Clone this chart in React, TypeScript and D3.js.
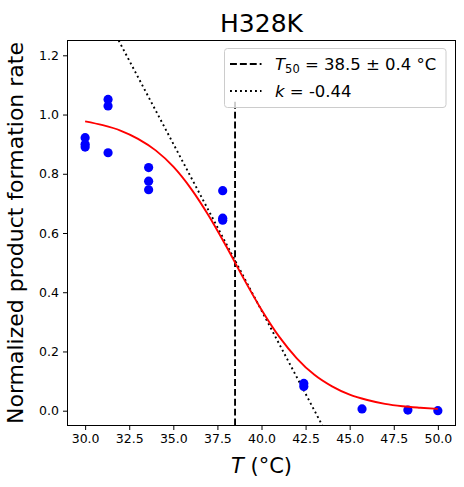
import { useEffect, useRef } from 'react';
import * as d3 from 'd3';

// measured points (temperature, normalized rate)
const tempC = [30, 30, 30, 31.3, 31.3, 31.3, 33.6, 33.6, 33.6, 37.8, 37.8, 37.8, 42.4, 42.4, 45.7, 48.3, 50.0];
const rate = [0.922, 0.9, 0.89, 1.051, 1.029, 0.871, 0.821, 0.775, 0.746, 0.743, 0.65, 0.643, 0.092, 0.082, 0.006, 0.002, 0.0];

// sigmoid fit curve
const fitT = [30, 31, 32, 33, 34, 35, 36, 37, 38, 39, 40, 41, 42, 43, 44, 45, 46, 47, 48, 49, 50];
const fitY = [0.977, 0.964, 0.946, 0.918, 0.879, 0.824, 0.75, 0.659, 0.555, 0.445, 0.341, 0.25, 0.177, 0.121, 0.082, 0.054, 0.036, 0.023, 0.015, 0.01, 0.006];

// tangent at T50 (dotted) and T50 marker (dashed)
const tangentT = [31.9, 43.45];
const tangentY = [1.25, -0.05];
const t50 = 38.5;
const t50Top = 1.05;

const xTicks = [30, 32.5, 35, 37.5, 40, 42.5, 45, 47.5, 50];
const yTicks = [0, 0.2, 0.4, 0.6, 0.8, 1.0, 1.2];

const W = 464;
const H = 487;
const margin = { left: 67.5, right: 455.5, top: 40.5, bottom: 425.5 };
const FONT = '"DejaVu Sans", sans-serif';

export default function App() {
  const ref = useRef<SVGSVGElement>(null);

  useEffect(() => {
    if (!ref.current) return;
    document.body.style.margin = '0';

    const svg = d3.select(ref.current);
    svg.selectAll('*').remove();

    const x = d3.scaleLinear().domain([29, 51]).range([margin.left, margin.right]);
    const y = d3.scaleLinear().domain([-0.05, 1.25]).range([margin.bottom, margin.top]);

    svg.append('rect').attr('width', W).attr('height', H).attr('fill', 'white');

    svg.append('clipPath').attr('id', 'plot-clip')
      .append('rect')
      .attr('x', margin.left).attr('y', margin.top)
      .attr('width', margin.right - margin.left)
      .attr('height', margin.bottom - margin.top);

    const plot = svg.append('g').attr('clip-path', 'url(#plot-clip)');

    // T50 vertical
    plot.append('line')
      .attr('x1', x(t50)).attr('x2', x(t50))
      .attr('y1', y(-0.05)).attr('y2', y(t50Top))
      .attr('stroke', 'black').attr('stroke-width', 1.9)
      .attr('stroke-dasharray', '6.9,3');

    // tangent line
    const line = d3.line<number>()
      .x((_, i) => x(tangentT[i]))
      .y((d) => y(d));
    plot.append('path')
      .attr('d', line(tangentY))
      .attr('fill', 'none')
      .attr('stroke', 'black').attr('stroke-width', 1.9)
      .attr('stroke-dasharray', '1.9,3.1');

    // data points
    plot.selectAll('circle.pt')
      .data(rate)
      .enter()
      .append('circle')
      .attr('class', 'pt')
      .attr('cx', (_, i) => x(tempC[i]))
      .attr('cy', (d) => y(d))
      .attr('r', 4.6)
      .attr('fill', '#0000ff');

    // fit curve
    const fitLine = d3.line<number>()
      .x((_, i) => x(fitT[i]))
      .y((d) => y(d))
      .curve(d3.curveMonotoneX);
    plot.append('path')
      .attr('d', fitLine(fitY))
      .attr('fill', 'none')
      .attr('stroke', '#ff0000')
      .attr('stroke-width', 1.9);

    // axes
    const xAxis = svg.append('g')
      .attr('transform', `translate(0,${margin.bottom})`)
      .call(d3.axisBottom(x).tickValues(xTicks).tickFormat(d3.format('.1f')).tickSize(4.5).tickPadding(4));
    const yAxis = svg.append('g')
      .attr('transform', `translate(${margin.left},0)`)
      .call(d3.axisLeft(y).tickValues(yTicks).tickFormat(d3.format('.1f')).tickSize(4.5).tickPadding(4));
    [xAxis, yAxis].forEach((g) => {
      g.select('.domain').remove();
      g.selectAll('text').attr('font-family', FONT).attr('font-size', 12.5).attr('fill', 'black');
      g.selectAll('line').attr('stroke', 'black').attr('stroke-width', 1);
    });

    // frame
    svg.append('rect')
      .attr('x', margin.left).attr('y', margin.top)
      .attr('width', margin.right - margin.left)
      .attr('height', margin.bottom - margin.top)
      .attr('fill', 'none').attr('stroke', 'black').attr('stroke-width', 1);

    // legend
    const lg = svg.append('g');
    lg.append('rect')
      .attr('x', 224.5).attr('y', 48.5).attr('width', 221.5).attr('height', 59)
      .attr('rx', 3)
      .attr('fill', 'white').attr('fill-opacity', 0.8)
      .attr('stroke', '#cccccc').attr('stroke-width', 1);
    lg.append('line')
      .attr('x1', 230).attr('x2', 261.5).attr('y1', 64).attr('y2', 64)
      .attr('stroke', 'black').attr('stroke-width', 1.9).attr('stroke-dasharray', '6.9,3');
    lg.append('line')
      .attr('x1', 230).attr('x2', 261.5).attr('y1', 91).attr('y2', 91)
      .attr('stroke', 'black').attr('stroke-width', 1.9).attr('stroke-dasharray', '1.9,3.1');

    const t1 = lg.append('text')
      .attr('x', 275).attr('y', 70)
      .attr('font-family', FONT).attr('font-size', 16.5).attr('fill', 'black');
    t1.append('tspan').attr('font-style', 'italic').text('T');
    t1.append('tspan').attr('font-size', 11.5).attr('dy', 2.5).text('50');
    t1.append('tspan').attr('dy', -2.5).text(' = 38.5 ± 0.4 °C');

    const t2 = lg.append('text')
      .attr('x', 275).attr('y', 97)
      .attr('font-family', FONT).attr('font-size', 16.5).attr('fill', 'black');
    t2.append('tspan').attr('font-style', 'italic').text('k');
    t2.append('tspan').text(' = -0.44');

    // title and axis labels
    svg.append('text')
      .attr('x', (margin.left + margin.right) / 2).attr('y', 31.5)
      .attr('text-anchor', 'middle')
      .attr('font-family', FONT).attr('font-size', 25).attr('fill', 'black')
      .text('H328K');

    const xl = svg.append('text')
      .attr('x', (margin.left + margin.right) / 2).attr('y', 473)
      .attr('text-anchor', 'middle')
      .attr('font-family', FONT).attr('font-size', 21).attr('fill', 'black');
    xl.append('tspan').attr('font-style', 'italic').text('T');
    xl.append('tspan').text(' (°C)');

    svg.append('text')
      .attr('transform', `translate(${22.5},${(margin.top + margin.bottom) / 2}) rotate(-90)`)
      .attr('text-anchor', 'middle')
      .attr('font-family', FONT).attr('font-size', 22).attr('fill', 'black')
      .text('Normalized product formation rate');
  }, []);

  return <svg ref={ref} width={W} height={H} style={{ display: 'block' }} />;
}
